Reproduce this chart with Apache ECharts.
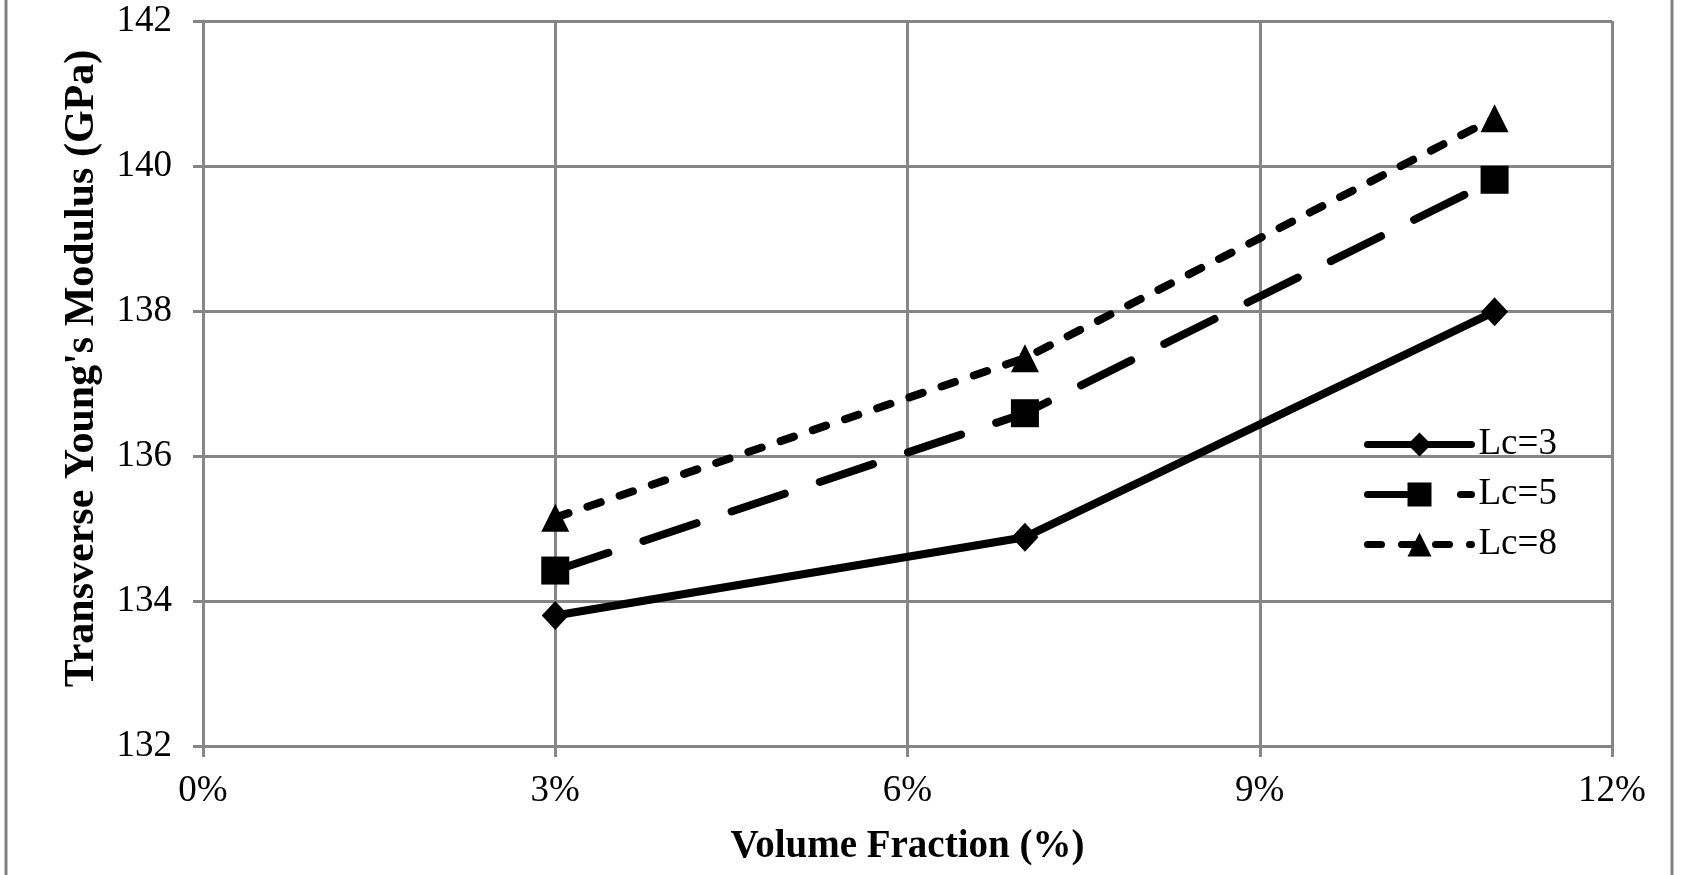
<!DOCTYPE html>
<html>
<head>
<meta charset="utf-8">
<script src="https://cdn.jsdelivr.net/npm/echarts@6/dist/echarts.min.js"></script>
<style>
html,body{margin:0;padding:0;background:#fff;}
#c{width:1706px;height:875px;}
</style>
</head>
<body>
<div id="c"></div>
<script>
const xValues = [3, 7, 11];
const lc3 = [133.80, 134.88, 137.99];
const lc5 = [134.42, 136.59, 139.81];
const lc8 = [135.15, 137.35, 140.66];
const seriesNames = ['Lc=3', 'Lc=5', 'Lc=8'];

const FONT = '"Liberation Serif", "Times New Roman", serif';
const GRID_COLOR = '#868686';

function pairs(vals) { return xValues.map((x, i) => [x, vals[i]]); }

const chart = echarts.init(document.getElementById('c'));
chart.setOption({
  animation: false,
  backgroundColor: '#fff',
  grid: { left: 203, right: 94, top: 21, bottom: 129, containLabel: false },
  xAxis: {
    type: 'value', min: 0, max: 12, interval: 3,
    name: 'Volume Fraction (%)', nameLocation: 'middle', nameGap: 81,
    nameTextStyle: { fontFamily: FONT, fontSize: 39, fontWeight: 'bold', color: '#000' },
    axisLine: { show: true, lineStyle: { color: GRID_COLOR, width: 3 } },
    axisTick: { show: true, inside: false, length: 11, lineStyle: { color: GRID_COLOR, width: 3 } },
    axisLabel: { fontFamily: FONT, fontSize: 37, color: '#000', margin: 27, formatter: v => v + '%' },
    splitLine: { show: true, lineStyle: { color: GRID_COLOR, width: 3 } }
  },
  yAxis: {
    type: 'value', min: 132, max: 142, interval: 2,
    name: "Transverse Young's Modulus (GPa)", nameLocation: 'middle', nameGap: 100,
    nameTextStyle: { fontFamily: FONT, fontSize: 42, fontWeight: 'bold', color: '#000', padding: [0, 0, 0, 30] },
    axisLine: { show: true, lineStyle: { color: GRID_COLOR, width: 3 } },
    axisTick: { show: true, inside: false, length: 10, lineStyle: { color: GRID_COLOR, width: 3 } },
    axisLabel: { fontFamily: FONT, fontSize: 37, color: '#000', margin: 31 },
    splitLine: { show: true, lineStyle: { color: GRID_COLOR, width: 3 } }
  },
  legend: {
    show: true, orient: 'vertical', left: 1364, top: 426, padding: 0,
    itemWidth: 104, itemHeight: 30, itemGap: 13,
    lineStyle: { width: 7, cap: 'round' },
    textStyle: { fontFamily: FONT, fontSize: 37, color: '#000', padding: [0, 0, 0, 2] },
    data: seriesNames
  },
  graphic: [
    { type: 'line', shape: { x1: 6, y1: 0, x2: 6, y2: 875 }, style: { stroke: '#808080', lineWidth: 3 } },
    { type: 'line', shape: { x1: 1672, y1: 0, x2: 1672, y2: 875 }, style: { stroke: '#808080', lineWidth: 3 } }
  ],
  series: [
    {
      name: seriesNames[0], type: 'line', data: pairs(lc3),
      symbol: 'diamond', symbolSize: [27, 29],
      itemStyle: { color: '#000' },
      lineStyle: { color: '#000', width: 8, type: 'solid', cap: 'round', join: 'round' }
    },
    {
      name: seriesNames[1], type: 'line', data: pairs(lc5),
      symbol: 'rect', symbolSize: 28,
      itemStyle: { color: '#000' },
      lineStyle: { color: '#000', width: 8, type: [56, 37], cap: 'round', join: 'round' }
    },
    {
      name: seriesNames[2], type: 'line', data: pairs(lc8),
      symbol: 'triangle', symbolSize: 28,
      itemStyle: { color: '#000' },
      lineStyle: { color: '#000', width: 8, type: [14, 20], cap: 'round', join: 'round' }
    }
  ]
});
</script>
</body>
</html>
